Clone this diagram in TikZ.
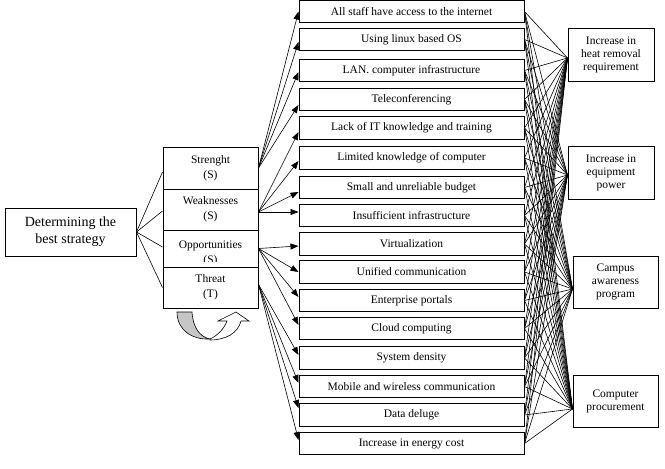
\documentclass[tikz,border=0pt]{standalone}
\usepackage{fontspec}
\setmainfont{Liberation Serif}
\usetikzlibrary{arrows.meta}
\begin{document}
\begin{tikzpicture}[x=1pt,y=-1pt,
  box/.style={draw,line width=1pt,inner sep=0pt,align=center,font=\fontsize{11.5}{13}\selectfont},
  mbox/.style={box,minimum width=225pt,minimum height=22.5pt},
  swot/.style={box,minimum width=95pt,font=\fontsize{11.5}{15}\selectfont},
  rbox/.style={box,minimum height=53pt},
  conn/.style={line width=0.6pt},
  arr/.style={line width=0.6pt,-{Triangle[length=8pt,width=6pt]}}
]
\useasboundingbox (0,0) rectangle (665,469);

% middle boxes
\foreach \i/\y/\t in {
  1/11.5/All staff have access to the internet,
  2/39.5/Using linux based OS,
  3/70.5/LAN. computer infrastructure,
  4/99.5/Teleconferencing,
  5/128/Lack of IT knowledge and training,
  6/158/Limited knowledge of computer,
  7/187.5/Small and unreliable budget,
  8/215.5/Insufficient infrastructure,
  9/244/Virtualization,
  10/272/Unified communication,
  11/300.5/Enterprise portals,
  12/328.5/Cloud computing,
  13/358/System density,
  14/386.5/Mobile and wireless communication,
  15/415/Data deluge,
  16/443.5/Increase in energy cost}
  \node[mbox] (m\i) at (411.5,\y) {\t};

% left box
\node[box,minimum width=131pt,minimum height=48pt,font=\fontsize{14}{17}\selectfont] (D) at (70.5,232) {Determining the\\best strategy};

% SWOT boxes
\node[swot,minimum height=42pt] (S) at (210.5,168) {Strenght\\(S)};
\node[swot,minimum height=41pt] (W) at (210.5,209.5) {Weaknesses\\(S)};
\node[swot,minimum height=37pt] (O) at (210.5,248.5) {};
\begin{scope}
  \clip (163,231) rectangle (258,261);
  \node[align=center,inner sep=0pt,font=\fontsize{11.5}{15}\selectfont] (Otext) at (210.5,253) {Opportunities\\(S)};
\end{scope}
\node[swot,minimum height=41pt] (T) at (210.5,287.5) {Threat\\(T)};

% right boxes
\node[rbox,minimum width=86pt] (R1) at (611,54.5) {Increase in\\heat removal\\requirement};
\node[rbox,minimum width=86pt] (R2) at (611,172.5) {Increase in\\equipment\\power};
\node[rbox,minimum width=85pt,minimum height=52pt] (R3) at (615.5,282) {Campus\\awareness\\program};
\node[rbox,minimum width=85pt,minimum height=52pt] (R4) at (615.5,401) {Computer\\procurement};

% fan from D
\draw[conn] (D.east) -- ([yshift=-4pt]S.west);
\draw[conn] (D.east) -- ([yshift=-1.5pt]W.west);
\draw[conn] (D.east) -- ([yshift=1.5pt]O.west);
\draw[conn] (D.east) -- (T.west);

% arrows to middle boxes
\foreach \i/\s in {1/0,2/-2.5,3/-1.5,4/-5.5}
  \draw[arr] (S.east) -- ([yshift=\s pt]m\i.west);
\foreach \i/\s in {5/-4,6/-3,7/-4.5,8/3.5}
  \draw[arr] ([yshift=-2.5pt]W.east) -- ([yshift=\s pt]m\i.west);
\foreach \i/\s in {9/-2,10/0,11/3.5,12/3.5}
  \draw[arr] (O.east) -- ([yshift=\s pt]m\i.west);
\foreach \i/\s in {13/3,14/3.5,15/7,16/3.5}
  \draw[arr] ([yshift=3pt]T.east) -- ([yshift=\s pt]m\i.west);

% lines to right boxes
\foreach \i in {1,...,16}{
  \draw[conn] (m\i.east) -- ([yshift=-3.5pt]R1.west);
  \draw[conn] (m\i.east) -- ([yshift=-2.5pt]R2.west);
  \draw[conn] (m\i.east) -- ([yshift=-7pt]R3.west);
  \draw[conn] (m\i.east) -- ([yshift=-8pt]R4.west);
}

% curved arrow below SWOT
\filldraw[fill=gray!45,line width=0.6pt] (177,312) -- (192,312) .. controls (193,328) and (200,337) .. (210,339) .. controls (192,340) and (177,330) .. (177,312) -- cycle;
\filldraw[fill=white,line width=0.6pt] (210,339) .. controls (217,336) and (224,329) .. (227,321) -- (218,321) -- (236,312) -- (249,321) -- (241,321) .. controls (238,333) and (226,340) .. (210,340) -- cycle;
\end{tikzpicture}
\end{document}
